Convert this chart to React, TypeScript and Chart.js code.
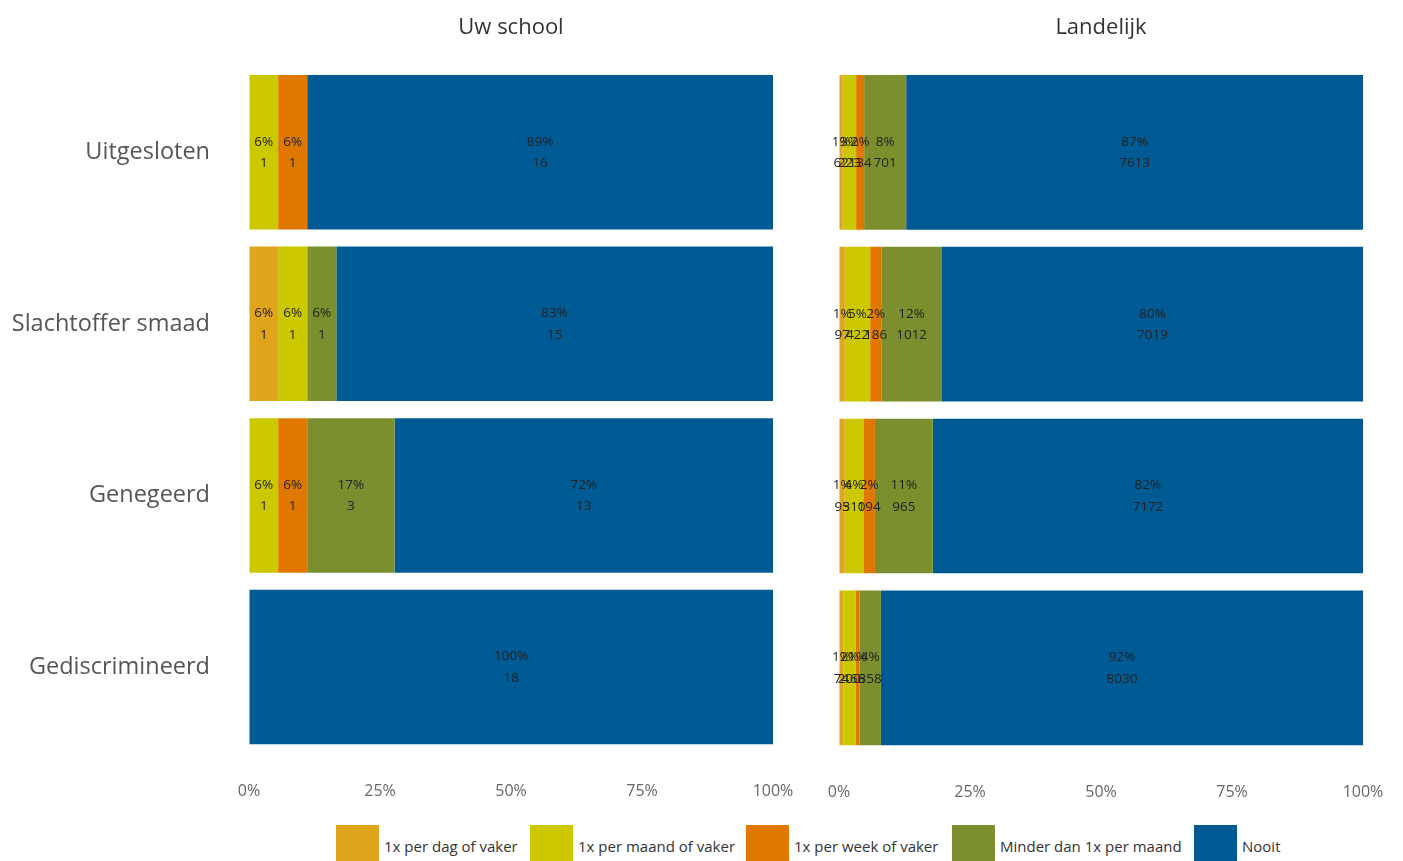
import React, { useEffect, useRef } from "react";
import { Chart, registerables } from "chart.js";

Chart.register(...registerables);

const categories = ["Uitgesloten", "Slachtoffer smaad", "Genegeerd", "Gediscrimineerd"];
const seriesNames = [
  "1x per dag of vaker",
  "1x per maand of vaker",
  "1x per week of vaker",
  "Minder dan 1x per maand",
  "Nooit",
];
const seriesColors = ["#E0A51B", "#CCC800", "#E07800", "#7B8F2E", "#005A94"];
const xTickLabels = ["0%", "25%", "50%", "75%", "100%"];

// counts per series, per category (Uw school)
const schoolDag = [0, 1, 0, 0];
const schoolMaand = [1, 1, 1, 0];
const schoolWeek = [1, 0, 1, 0];
const schoolMinder = [0, 1, 3, 0];
const schoolNooit = [16, 15, 13, 18];

// counts per series, per category (Landelijk)
const landDag = [62, 97, 95, 74];
const landMaand = [223, 422, 310, 200];
const landWeek = [134, 186, 194, 66];
const landMinder = [701, 1012, 965, 358];
const landNooit = [7613, 7019, 7172, 8030];

const FONT = "'Open Sans', Lato, sans-serif";
const legendLefts = [336, 530, 746, 952, 1194];

function buildDatasets(series: number[][]) {
  const totals = categories.map((_, i) => series.reduce((s, arr) => s + arr[i], 0));
  return series.map((arr, k) => ({
    label: seriesNames[k],
    data: arr.map((v, i) => (v / totals[i]) * 100),
    counts: arr,
    backgroundColor: seriesColors[k],
    borderWidth: 0,
    barPercentage: 0.9,
    categoryPercentage: 1,
  }));
}

const labelPlugin = {
  id: "segLabels",
  afterDatasetsDraw(chart: any) {
    const ctx = chart.ctx;
    ctx.save();
    ctx.font = `13.5px ${FONT}`;
    ctx.fillStyle = "#222";
    ctx.textAlign = "center";
    ctx.textBaseline = "middle";
    chart.data.datasets.forEach((ds: any, di: number) => {
      const meta = chart.getDatasetMeta(di);
      meta.data.forEach((bar: any, i: number) => {
        const v = ds.data[i];
        if (!v) return;
        const cx = (bar.x + bar.base) / 2;
        ctx.fillText(Math.round(v) + "%", cx, bar.y - 10.5);
        ctx.fillText(String(ds.counts[i]), cx, bar.y + 11);
      });
    });
    ctx.restore();
  },
};

function makeConfig(title: string, series: number[][], showY: boolean, padLeft: number, padRight: number): any {
  const yScale: any = {
    stacked: true,
    display: showY,
    grid: { display: false, drawTicks: false },
    border: { display: false },
    ticks: {
      padding: 39,
      color: "#555",
      font: { family: FONT, size: 23.5 },
    },
  };
  if (showY) {
    yScale.afterFit = (scale: any) => {
      scale.width = 249;
    };
  }
  return {
    type: "bar",
    data: { labels: categories, datasets: buildDatasets(series) },
    plugins: [labelPlugin],
    options: {
      indexAxis: "y",
      responsive: false,
      animation: false,
      layout: { padding: { left: padLeft, right: padRight, top: 0, bottom: 0 } },
      plugins: {
        legend: { display: false },
        tooltip: { enabled: false },
        title: {
          display: true,
          text: title,
          fullSize: false,
          color: "#333",
          font: { family: FONT, size: 22, weight: "normal" },
          padding: { top: 15, bottom: 25 },
        },
      },
      scales: {
        x: {
          stacked: true,
          min: 0,
          max: 100,
          grid: {
            display: true,
            drawOnChartArea: false,
            drawTicks: true,
            tickLength: 25,
            color: "rgba(0,0,0,0)",
          },
          border: { display: false },
          ticks: {
            stepSize: 25,
            padding: 4,
            color: "#666",
            font: { family: FONT, size: 16 },
            callback: (_v: any, idx: number) => xTickLabels[idx],
          },
        },
        y: yScale,
      },
    },
  };
}

function ChartCanvas({ config, width, height, left }: any) {
  const ref = useRef<HTMLCanvasElement>(null);
  useEffect(() => {
    if (!ref.current) return;
    const chart = new Chart(ref.current, config);
    return () => chart.destroy();
  }, []);
  return (
    <canvas
      ref={ref}
      width={width}
      height={height}
      style={{ position: "absolute", left, top: 0, width, height }}
    />
  );
}

export default function App() {
  const leftCfg = makeConfig(
    "Uw school",
    [schoolDag, schoolMaand, schoolWeek, schoolMinder, schoolNooit],
    true,
    0,
    27
  );
  const rightCfg = makeConfig(
    "Landelijk",
    [landDag, landMaand, landWeek, landMinder, landNooit],
    false,
    39,
    40
  );
  return (
    <div
      style={{
        position: "fixed",
        left: 0,
        top: 0,
        width: 1403,
        height: 861,
        overflow: "hidden",
        background: "#fff",
        fontFamily: FONT,
      }}
    >
      <ChartCanvas config={leftCfg} width={800} height={806} left={0} />
      <ChartCanvas config={rightCfg} width={603} height={806} left={800} />
      {seriesNames.map((name, i) => (
        <div
          key={name}
          style={{
            position: "absolute",
            left: legendLefts[i],
            top: 825,
            height: 36,
            display: "flex",
            alignItems: "center",
          }}
        >
          <div style={{ width: 43, height: 36, background: seriesColors[i] }} />
          <span
            style={{
              marginLeft: 5,
              fontSize: 15,
              color: "#333",
              whiteSpace: "nowrap",
              position: "relative",
              top: 3,
            }}
          >
            {name}
          </span>
        </div>
      ))}
    </div>
  );
}
